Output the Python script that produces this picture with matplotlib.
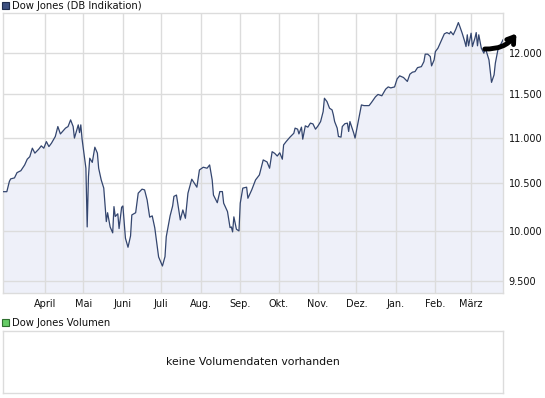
import pandas as pd
import matplotlib
matplotlib.use('Agg')
import matplotlib.pyplot as plt
import matplotlib.dates as mdates
from matplotlib.ticker import FixedLocator, FuncFormatter, NullLocator
from matplotlib.patches import Rectangle

# Dow Jones (DB Indikation)
dates = [
    '2010-02-27', '2010-03-02', '2010-03-04', '2010-03-05', '2010-03-08', '2010-03-10',
    '2010-03-13', '2010-03-16', '2010-03-18', '2010-03-20', '2010-03-22', '2010-03-24',
    '2010-03-27', '2010-03-29', '2010-03-31', '2010-04-02', '2010-04-04', '2010-04-06',
    '2010-04-09', '2010-04-11', '2010-04-13', '2010-04-17', '2010-04-19', '2010-04-21',
    '2010-04-23', '2010-04-24', '2010-04-27', '2010-04-28', '2010-04-29', '2010-04-30',
    '2010-05-03', '2010-05-04', '2010-05-05', '2010-05-06', '2010-05-08', '2010-05-10',
    '2010-05-12', '2010-05-13', '2010-05-15', '2010-05-17', '2010-05-19', '2010-05-20',
    '2010-05-22', '2010-05-24', '2010-05-25', '2010-05-26', '2010-05-28', '2010-05-29',
    '2010-05-31', '2010-06-01', '2010-06-03', '2010-06-05', '2010-06-07', '2010-06-08',
    '2010-06-11', '2010-06-13', '2010-06-16', '2010-06-18', '2010-06-20', '2010-06-22',
    '2010-06-24', '2010-06-26', '2010-06-28', '2010-06-29', '2010-07-02', '2010-07-04',
    '2010-07-05', '2010-07-08', '2010-07-10', '2010-07-11', '2010-07-13', '2010-07-14',
    '2010-07-16', '2010-07-18', '2010-07-20', '2010-07-22', '2010-07-25', '2010-07-29',
    '2010-07-31', '2010-08-03', '2010-08-06', '2010-08-08', '2010-08-10', '2010-08-11',
    '2010-08-14', '2010-08-16', '2010-08-18', '2010-08-19', '2010-08-22', '2010-08-24',
    '2010-08-25', '2010-08-26', '2010-08-27', '2010-08-29', '2010-08-31', '2010-09-01',
    '2010-09-03', '2010-09-06', '2010-09-07', '2010-09-10', '2010-09-13', '2010-09-16',
    '2010-09-19', '2010-09-22', '2010-09-24', '2010-09-26', '2010-09-28', '2010-09-30',
    '2010-10-02', '2010-10-04', '2010-10-05', '2010-10-07', '2010-10-10', '2010-10-13',
    '2010-10-14', '2010-10-16', '2010-10-17', '2010-10-19', '2010-10-20', '2010-10-22',
    '2010-10-24', '2010-10-26', '2010-10-28', '2010-10-30', '2010-11-01', '2010-11-03',
    '2010-11-05', '2010-11-06', '2010-11-08', '2010-11-10', '2010-11-12', '2010-11-13',
    '2010-11-14', '2010-11-16', '2010-11-17', '2010-11-19', '2010-11-20', '2010-11-22',
    '2010-11-24', '2010-11-25', '2010-11-26', '2010-11-29', '2010-11-30', '2010-12-03',
    '2010-12-05', '2010-12-07', '2010-12-11', '2010-12-13', '2010-12-16', '2010-12-18',
    '2010-12-21', '2010-12-24', '2010-12-26', '2010-12-28', '2010-12-31', '2011-01-02',
    '2011-01-04', '2011-01-07', '2011-01-10', '2011-01-12', '2011-01-14', '2011-01-16',
    '2011-01-18', '2011-01-21', '2011-01-23', '2011-01-24', '2011-01-26', '2011-01-28',
    '2011-01-29', '2011-01-31', '2011-02-01', '2011-02-03', '2011-02-05', '2011-02-08',
    '2011-02-10', '2011-02-12', '2011-02-13', '2011-02-15', '2011-02-17', '2011-02-19',
    '2011-02-20', '2011-02-22', '2011-02-24', '2011-02-25', '2011-02-26', '2011-02-27',
    '2011-03-01', '2011-03-02', '2011-03-04', '2011-03-05', '2011-03-06', '2011-03-07',
    '2011-03-09', '2011-03-11', '2011-03-12', '2011-03-13', '2011-03-15', '2011-03-16',
    '2011-03-17', '2011-03-19', '2011-03-20', '2011-03-21', '2011-03-22', '2011-03-24',
    '2011-03-26',
]
values = [
    10410, 10410, 10520, 10547, 10558, 10615,
    10636, 10699, 10762, 10790, 10884, 10829,
    10873, 10910, 10884, 10958, 10902, 10940,
    11015, 11128, 11044, 11110, 11128, 11204,
    11128, 10997, 11147, 11059, 11147, 10985,
    10663, 10041, 10572, 10773, 10727, 10895,
    10829, 10663, 10536, 10448, 10096, 10188,
    10041, 9980, 10252, 10149, 10177, 10024,
    10245, 10259, 9925, 9834, 9949, 10165,
    10188, 10394, 10437, 10429, 10322, 10142,
    10155, 10031, 9838, 9737, 9647, 9740,
    9941, 10155, 10259, 10360, 10374, 10288,
    10113, 10217, 10130, 10394, 10544, 10458,
    10644, 10674, 10663, 10699, 10536, 10374,
    10293, 10411, 10411, 10288, 10200, 10034,
    10041, 9990, 10145, 10017, 10000, 10288,
    10448, 10458, 10340, 10429, 10536, 10590,
    10754, 10732, 10663, 10845, 10827, 10797,
    10833, 10762, 10921, 10958, 11008, 11052,
    11110, 11098, 11044, 11121, 10985, 11136,
    11121, 11167, 11158, 11098, 11136, 11185,
    11300, 11455, 11416, 11339, 11319, 11262,
    11185, 11110, 11015, 11008, 11128, 11160,
    11167, 11072, 11185, 11052, 10997, 11223,
    11377, 11369, 11369, 11408, 11472, 11500,
    11484, 11562, 11589, 11577, 11589, 11685,
    11721, 11701, 11654, 11741, 11765, 11772,
    11820, 11832, 11893, 11984, 11984, 11955,
    11841, 11914, 12016, 12058, 12128, 12236,
    12252, 12236, 12264, 12224, 12294, 12378,
    12336, 12244, 12140, 12078, 12224, 12087,
    12244, 12078, 12183, 12252, 12087, 12224,
    12058, 11996, 12058, 12016, 11914, 11773,
    11643, 11733, 11874, 11955, 12037, 12099,
    12161,
]

month_ticks = ['2010-04-01', '2010-05-01', '2010-06-01', '2010-07-01', '2010-08-01', '2010-09-01',
               '2010-10-01', '2010-11-01', '2010-12-01', '2011-01-01', '2011-02-01', '2011-03-01']
month_labels = ['April', 'Mai', 'Juni', 'Juli', 'Aug.', 'Sep.', 'Okt.', 'Nov.', 'Dez.', 'Jan.', 'Feb.', 'März']
price_ticks = [9500, 10000, 10500, 11000, 11500, 12000]

W, H = 545, 398
GRID = '#dcdcdc'
LINE = '#34466f'
FILL = '#eef0f9'
FONT = 'DejaVu Sans'


def pxBox(x0, y0, x1, y1):
    # pixel box (top-left origin) -> figure fraction rect
    return [x0 / W, 1 - y1 / H, (x1 - x0) / W, (y1 - y0) / H]


def legendSquare(fig, x, y, color, edge):
    fig.add_artist(Rectangle((x / W, 1 - (y + 7) / H), 7 / W, 7 / H,
                             facecolor=color, edgecolor=edge, lw=0.8,
                             transform=fig.transFigure))


fig = plt.figure(figsize=(W / 100, H / 100), dpi=100)

# main price panel
ax = fig.add_axes(pxBox(3, 13, 503, 293))
x = pd.to_datetime(dates)
ax.fill_between(x, values, 1000, color=FILL, lw=0, zorder=1)
ax.plot(x, values, color=LINE, lw=0.9, zorder=3)
ax.set_yscale('log')
ax.set_ylim(9384, 12500)
ax.set_xlim(pd.Timestamp('2010-02-27'), pd.Timestamp('2011-03-26'))

ax.yaxis.set_major_locator(FixedLocator(price_ticks))
ax.yaxis.set_minor_locator(NullLocator())
ax.yaxis.set_major_formatter(FuncFormatter(lambda v, p: f'{v:,.0f}'.replace(',', '.')))
ax.yaxis.tick_right()
ax.xaxis.set_major_locator(FixedLocator(mdates.date2num(pd.to_datetime(month_ticks))))
ax.set_xticklabels(month_labels)
ax.tick_params(length=0, labelsize=7, colors='#111111', pad=4)
for lbl in ax.get_xticklabels() + ax.get_yticklabels():
    lbl.set_family(FONT)

ax.grid(True, color=GRID, lw=1.0, zorder=2)
ax.set_axisbelow(False)
for s in ax.spines.values():
    s.set_color(GRID)
    s.set_linewidth(1.0)

# hand drawn arrow
ax.annotate('', xy=(1.03, 0.935), xytext=(0.958, 0.872), xycoords='axes fraction',
            textcoords='axes fraction', annotation_clip=False,
            arrowprops=dict(arrowstyle='->,head_length=0.45,head_width=0.3', color='black',
                            lw=3.5, connectionstyle='arc3,rad=0.3'))

legendSquare(fig, 2, 2, '#3d5080', '#1f2d4f')
fig.text(12 / W, 1 - 6 / H, 'Dow Jones (DB Indikation)', fontsize=7.2, family=FONT,
         va='center', ha='left', color='#111111')

# volume panel (empty)
legendSquare(fig, 2, 319, '#66cc66', '#2f6f2f')
fig.text(12 / W, 1 - 323 / H, 'Dow Jones Volumen', fontsize=7.2, family=FONT,
         va='center', ha='left', color='#111111')
ax2 = fig.add_axes(pxBox(3, 331, 503, 393))
ax2.set_xticks([])
ax2.set_yticks([])
for s in ax2.spines.values():
    s.set_color(GRID)
    s.set_linewidth(1.0)
ax2.text(0.5, 0.5, 'keine Volumendaten vorhanden', transform=ax2.transAxes,
         ha='center', va='center', fontsize=7.8, family=FONT, color='#111111')

fig.savefig('out.png', dpi=100)
